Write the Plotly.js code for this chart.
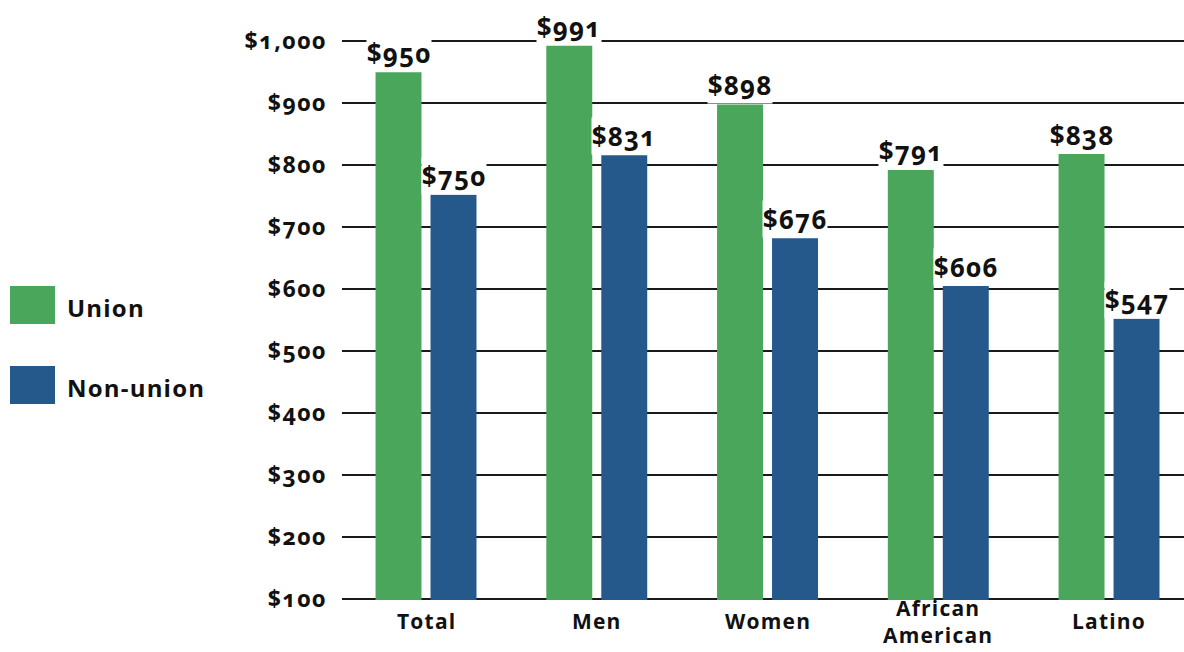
<!DOCTYPE html>
<html><head><meta charset="utf-8">
<script src="https://cdn.plot.ly/plotly-3.0.1.min.js"></script>
<style>
html,body{margin:0;padding:0;background:#fff;overflow:hidden}
#chart{width:1184px;height:652px}
.main-svg text{font-variant-numeric:oldstyle-nums;font-feature-settings:"onum" 1;}
.ytick text{letter-spacing:1.6px;}
.annotation-text{letter-spacing:1.2px;}
</style>
</head><body><div id="chart"></div>
<script>
// ---- data ----
const categories = ["Total", "Men", "Women", "African<br>American", "Latino"];
const seriesNames = ["Union", "Non-union"];
const unionValues = [950, 993, 898, 792, 818];
const nonunionValues = [752, 816, 682, 605, 552];
const unionLabels = ["$950", "$991", "$898", "$791", "$838"];
const nonunionLabels = ["$750", "$831", "$676", "$606", "$547"];
const yTickVals = [100, 200, 300, 400, 500, 600, 700, 800, 900, 1000];
const yTickText = ["$100", "$200", "$300", "$400", "$500", "$600", "$700", "$800", "$900", "$1,000"];

// ---- style ----
const GREEN = "#4AA65A";
const BLUE = "#25598C";
const FONT = "Open Sans, Lato, sans-serif";
const W = 1184, H = 652;
const M = {l: 342, r: 0, t: 40, b: 52};
const PW = W - M.l - M.r, PH = H - M.t - M.b;
const px = x => (x - M.l) / PW;
const py = y => 1 - (y - M.t) / PH;

const traces = [
  {type: "bar", name: seriesNames[0], x: categories, y: unionValues,
   marker: {color: GREEN}, hoverinfo: "skip"},
  {type: "bar", name: seriesNames[1], x: categories, y: nonunionValues,
   marker: {color: BLUE}, hoverinfo: "skip"}
];

const annotations = [];
const addLabels = (vals, labels, shift) => {
  vals.forEach((v, i) => annotations.push({
    x: categories[i], y: v, xref: "x", yref: "y", text: labels[i],
    showarrow: false, yanchor: "bottom", xanchor: "center", xshift: shift, yshift: 0,
    bgcolor: "#ffffff", borderpad: 0,
    font: {family: FONT, size: 26, color: "#111", weight: "bold"}
  }));
};
addLabels(unionValues, unionLabels, -27.5);
addLabels(nonunionValues, nonunionLabels, 27.5);

// category labels (centered vertically below the axis)
categories.forEach(c => annotations.push({
  x: c, xref: "x", yref: "paper", y: py(621), yanchor: "middle", xanchor: "center",
  showarrow: false, text: c, borderpad: 0,
  font: {family: FONT, size: 21, color: "#111", weight: "bold"}
}));

// legend (drawn manually)
const legendColors = [GREEN, BLUE];
const legendY = [305, 385];
const shapes = [];
seriesNames.forEach((n, i) => {
  shapes.push({type: "rect", xref: "paper", yref: "paper",
    x0: px(10), x1: px(55), y0: py(legendY[i] - 19), y1: py(legendY[i] + 19),
    fillcolor: legendColors[i], line: {width: 0}});
  annotations.push({xref: "paper", yref: "paper", x: px(65), y: py(legendY[i] + 2),
    xanchor: "left", yanchor: "middle", showarrow: false, text: n,
    font: {family: FONT, size: 24, color: "#111", weight: "bold"}});
});

const layout = {
  width: W, height: H,
  margin: M,
  paper_bgcolor: "#fff", plot_bgcolor: "#fff",
  showlegend: false,
  barmode: "group",
  bargap: 0.356, bargroupgap: 0.164,
  font: {family: FONT, color: "#111"},
  xaxis: {
    type: "category", range: [-0.492, 4.439],
    showgrid: false, zeroline: false, showline: false, ticks: "",
    showticklabels: false
  },
  yaxis: {
    range: [98, 1002], tickvals: yTickVals, ticktext: yTickText,
    showgrid: true, gridcolor: "#1a1a1a", gridwidth: 2.5,
    zeroline: false, showline: false, ticks: "",
    ticklabelstandoff: 14,
    tickfont: {family: FONT, size: 23, color: "#111", weight: "bold"}
  },
  annotations: annotations,
  shapes: shapes
};

Plotly.newPlot("chart", traces, layout, {staticPlot: true, displayModeBar: false});
</script>
</body></html>
